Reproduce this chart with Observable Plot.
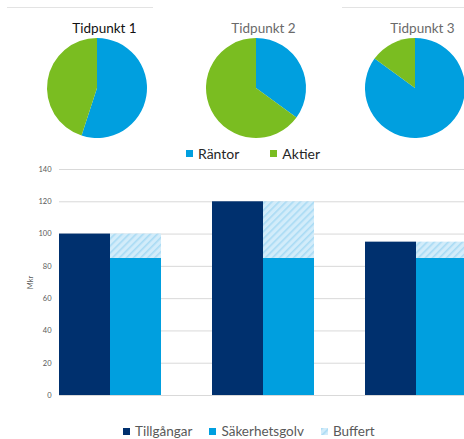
<!DOCTYPE html>
<html>
<head>
<meta charset="utf-8">
<script src="https://cdn.jsdelivr.net/npm/d3@7"></script>
<script src="https://cdn.jsdelivr.net/npm/@observablehq/plot@0.6"></script>
<style>
  html, body { margin: 0; padding: 0; background: #fff; overflow: hidden; }
  #root { position: relative; width: 464px; height: 439px; font-family: Lato, "Open Sans", sans-serif; }
  .abs { position: absolute; }
  .topline { position: absolute; top: 7px; height: 0; border-top: 1px solid #e3e3e3; }
  .legend { position: absolute; display: flex; align-items: center; white-space: nowrap; }
  .legend .item { display: flex; align-items: center; }
  .legend .sw { display: inline-block; width: 7px; height: 7px; margin-right: 5px; }
</style>
</head>
<body>
<svg width="0" height="0" style="position:absolute">
  <defs>
    <pattern id="hatch" patternUnits="userSpaceOnUse" width="5" height="5" patternTransform="rotate(-45)">
      <rect width="5" height="5" fill="#d2ecfa"></rect>
      <rect width="5" height="1.6" fill="#a9dbf4"></rect>
    </pattern>
  </defs>
</svg>
<div id="root">
  <div class="topline" style="left:7px;width:146px"></div>
  <div class="topline" style="left:342px;width:122px"></div>
  <div id="pies" class="abs" style="left:0;top:0"></div>
  <div id="legend1" class="legend" style="left:186px;top:145px;font-size:14px;color:#262626;gap:31px"></div>
  <div id="bars" class="abs" style="left:0;top:163px"></div>
  <div id="legend2" class="legend" style="left:123px;top:423px;font-size:13.5px;color:#595959;gap:17px"></div>
</div>
<script>
// ---- Data ----
const tidpunkter = ["Tidpunkt 1", "Tidpunkt 2", "Tidpunkt 3"];
const pieSeries = ["Räntor", "Aktier"];
const rantor = [55, 35, 85];
const aktier = [45, 65, 15];

const barSeries = ["Tillgångar", "Säkerhetsgolv", "Buffert"];
const tillgangar = [100, 120, 95];
const sakerhetsgolv = [85, 85, 85];
const buffert = [15, 35, 10];
const yTicks = [0, 20, 40, 60, 80, 100, 120, 140];

// ---- Colors ----
const pieColors = {"Räntor": "#009fdf", "Aktier": "#7abd21"};
const barColors = ["#00306e", "#009fdf", "url(#hatch)"];

// ---- Pies ----
const pieRows = tidpunkter.map((t, i) => ({t, values: [rantor[i], aktier[i]]}));
const pieGen = d3.pie().sort(null).startAngle(0).endAngle(2 * Math.PI);
const arcGen = d3.arc().innerRadius(0).outerRadius(50);

const pieMark = (index, scales, values, dimensions, context) => {
  const doc = (context && context.document) || document;
  const g = doc.createElementNS("http://www.w3.org/2000/svg", "g");
  for (const row of pieRows) {
    const cx = scales.x(row.t);
    const cy = 88;
    const arcs = pieGen(row.values);
    arcs.forEach((a, j) => {
      const p = doc.createElementNS("http://www.w3.org/2000/svg", "path");
      p.setAttribute("d", arcGen(a));
      p.setAttribute("transform", `translate(${cx},${cy})`);
      p.setAttribute("fill", pieColors[pieSeries[j]]);
      g.appendChild(p);
    });
  }
  return g;
};

const pies = Plot.plot({
  width: 464,
  height: 143,
  marginLeft: 97,
  marginRight: 49,
  marginTop: 0,
  marginBottom: 0,
  x: {type: "point", domain: tidpunkter, padding: 0, axis: null},
  style: {fontFamily: "Lato, 'Open Sans', sans-serif", background: "transparent"},
  marks: [
    pieMark,
    Plot.text(tidpunkter, {
      x: d => d, text: d => d, frameAnchor: "top", dy: 23, dx: 7,
      fontSize: 13.5,
      fill: d => d === "Tidpunkt 1" ? "#111" : "#6a6a6a"
    })
  ]
});
document.getElementById("pies").appendChild(pies);

// ---- Bars ----
const barRows = tidpunkter.flatMap((t, i) => [
  {t, slot: "Tillgångar", serie: "Tillgångar", v: tillgangar[i]},
  {t, slot: "Säkerhetsgolv", serie: "Säkerhetsgolv", v: sakerhetsgolv[i]},
  {t, slot: "Säkerhetsgolv", serie: "Buffert", v: buffert[i]}
]);

const bars = Plot.plot({
  width: 464,
  height: 242,
  marginLeft: 58,
  marginRight: -54,
  marginTop: 6,
  marginBottom: 10,
  fx: {domain: tidpunkter, padding: 0, axis: null},
  x: {domain: ["Tillgångar", "Säkerhetsgolv"], paddingInner: 0, paddingOuter: 0.5, align: 0, axis: null},
  y: {domain: [0, 140], axis: null},
  color: {type: "ordinal", domain: barSeries, range: barColors},
  style: {fontFamily: "Lato, 'Open Sans', sans-serif", background: "transparent", overflow: "hidden"},
  marks: [
    Plot.ruleY(yTicks, {stroke: "#d9d9d9", strokeWidth: 1}),
    Plot.barY(barRows, {fx: "t", x: "slot", y: "v", fill: "serie"}),
    Plot.axisY({ticks: yTicks, tickSize: 0, tickPadding: 8, fontSize: 7.5, color: "#595959",
      label: "Mkr", labelArrow: "none", labelAnchor: "center", labelOffset: 32})
  ]
});
document.getElementById("bars").appendChild(bars);

// ---- Legends ----
function swatchHTML(fill) {
  if (fill.startsWith("url")) {
    return `<svg class="sw" width="7" height="7" style="margin-right:5px"><rect width="7" height="7" fill="${fill}"></rect></svg>`;
  }
  return `<span class="sw" style="background:${fill}"></span>`;
}
document.getElementById("legend1").innerHTML = pieSeries
  .map(s => `<span class="item">${swatchHTML(pieColors[s])}${s}</span>`).join("");
document.getElementById("legend2").innerHTML = barSeries
  .map((s, i) => `<span class="item">${swatchHTML(barColors[i])}${s}</span>`).join("");
</script>
</body>
</html>
